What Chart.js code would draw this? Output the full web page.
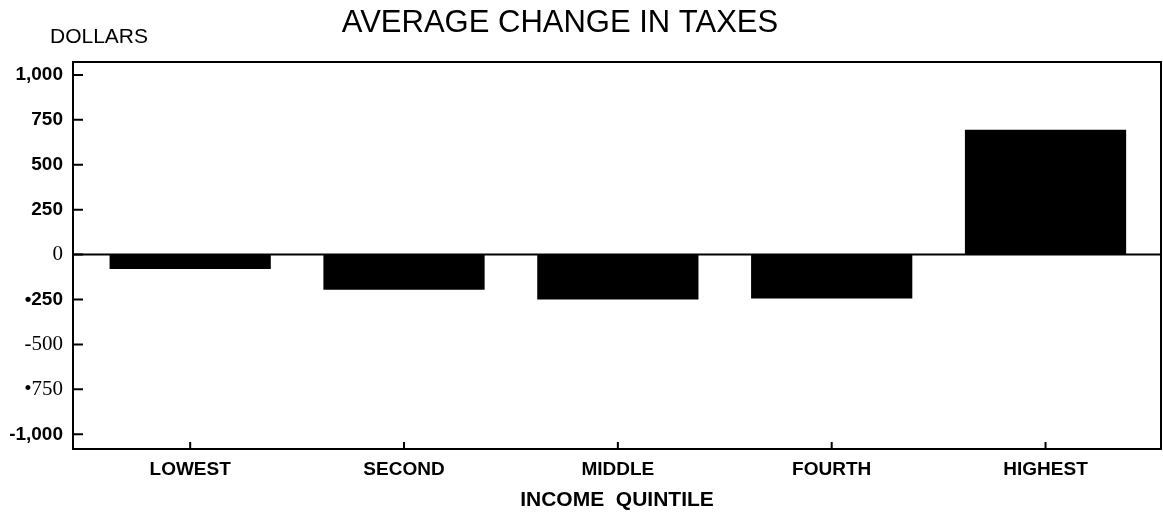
<!DOCTYPE html>
<html>
<head>
<meta charset="utf-8">
<script src="https://cdn.jsdelivr.net/npm/chart.js@4/dist/chart.umd.min.js"></script>
<style>
  html, body { margin: 0; padding: 0; background: #fff; }
  #wrap { width: 1163px; height: 516px; }
</style>
</head>
<body>
<div id="wrap"><canvas id="taxChart"></canvas></div>
<script>
// Quintiles and the average change in taxes (dollars)
const quintiles = ['LOWEST', 'SECOND', 'MIDDLE', 'FOURTH', 'HIGHEST'];
const taxChange = [-80, -195, -250, -245, 695];

// Y axis ticks as printed
const tickValues = [1000, 750, 500, 250, 0, -250, -500, -750, -1000];
const tickLabels = ['1,000', '750', '500', '250', '0', '•250', '-500', '•750', '-1,000'];
const serifTicks = ['0', '-500', '•750'];

const chartTitle = 'AVERAGE CHANGE IN TAXES';
const unitLabel = 'DOLLARS';

const points = quintiles.map((q, i) => ({ x: i, y: taxChange[i] }));

const SANS = '"Liberation Sans", Arial, sans-serif';
const SERIF = '"Liberation Serif", "Times New Roman", serif';

// Frame, zero line, inward tick marks, title and the DOLLARS label
const framePlugin = {
    id: 'frame',
    afterDatasetsDraw(chart) {
        const ctx = chart.ctx;
        const area = chart.chartArea;
        const xs = chart.scales.x;
        const ys = chart.scales.y;
        ctx.save();
        ctx.strokeStyle = '#000';
        ctx.lineWidth = 2;
        ctx.strokeRect(area.left, area.top, area.right - area.left, area.bottom - area.top);

        const y0 = ys.getPixelForValue(0);
        ctx.beginPath();
        ctx.moveTo(area.left, y0);
        ctx.lineTo(area.right, y0);
        ctx.stroke();

        ctx.beginPath();
        tickValues.forEach(v => {
            const y = ys.getPixelForValue(v);
            ctx.moveTo(area.left, y);
            ctx.lineTo(area.left + 10, y);
        });
        quintiles.forEach((q, i) => {
            const x = xs.getPixelForValue(i);
            ctx.moveTo(x, area.bottom);
            ctx.lineTo(x, area.bottom - 7);
        });
        ctx.stroke();

        ctx.fillStyle = '#000';
        ctx.textBaseline = 'middle';
        ctx.textAlign = 'center';
        ctx.font = '31px ' + SANS;
        ctx.fillText(chartTitle, 560, 23);

        ctx.textAlign = 'left';
        ctx.font = '21px ' + SANS;
        ctx.fillText(unitLabel, 50, 37);
        ctx.restore();
    }
};

const ctx = document.getElementById('taxChart').getContext('2d');
const chart = new Chart(ctx, {
    type: 'bar',
    data: {
        datasets: [{
            data: points,
            backgroundColor: '#000',
            borderWidth: 0,
            categoryPercentage: 1,
            barPercentage: 0.754
        }]
    },
    options: {
        responsive: true,
        maintainAspectRatio: false,
        animation: false,
        layout: { padding: { left: 0, right: 2, top: 62, bottom: 0 } },
        plugins: {
            legend: { display: false },
            tooltip: { enabled: false },
            title: { display: false }
        },
        scales: {
            x: {
                type: 'linear',
                offset: false,
                min: -0.548,
                max: 4.54,
                grid: { display: false, drawTicks: false },
                border: { display: false },
                afterFit(scale) { scale.height = 67; },
                ticks: {
                    stepSize: 1,
                    includeBounds: false,
                    autoSkip: false,
                    maxRotation: 0,
                    padding: 9,
                    color: '#000',
                    font: { family: SANS, size: 19, weight: 'bold' },
                    callback: v => Number.isInteger(v) ? quintiles[v] : ''
                },
                title: {
                    display: true,
                    text: 'INCOME  QUINTILE',
                    color: '#000',
                    font: { family: SANS, size: 21, weight: 'bold' },
                    padding: { top: 0, bottom: 3 }
                }
            },
            y: {
                min: -1082,
                max: 1072,
                grid: { display: false, drawTicks: false },
                border: { display: false },
                afterFit(scale) { scale.width = 73; },
                afterBuildTicks(scale) {
                    scale.ticks = tickValues.map(v => ({ value: v }));
                },
                ticks: {
                    padding: 10,
                    color: '#000',
                    callback: (v, i) => tickLabels[i],
                    font(c) {
                        const label = tickLabels[c.index];
                        if (serifTicks.includes(label)) {
                            return { family: SERIF, size: 21, weight: 'normal' };
                        }
                        return { family: SANS, size: 19, weight: 'bold' };
                    }
                }
            }
        }
    },
    plugins: [framePlugin]
});
</script>
</body>
</html>
